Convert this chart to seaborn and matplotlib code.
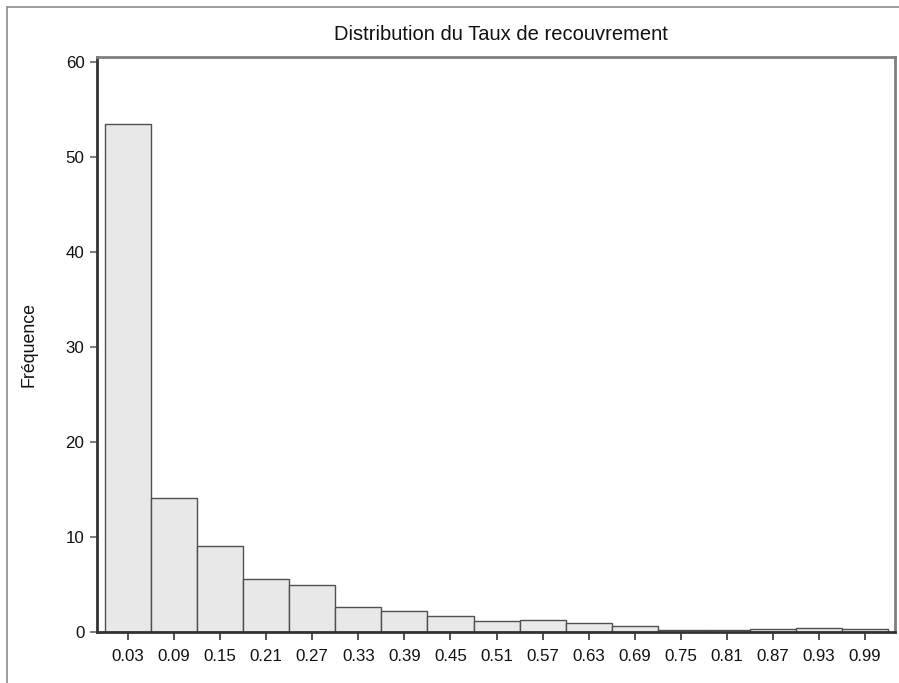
import numpy as np
import matplotlib
matplotlib.use("Agg")
import matplotlib.pyplot as plt
from matplotlib.lines import Line2D
import seaborn as sns

# bin centres and frequencies (%)
bin_centres = [0.03, 0.09, 0.15, 0.21, 0.27, 0.33, 0.39, 0.45, 0.51,
               0.57, 0.63, 0.69, 0.75, 0.81, 0.87, 0.93, 0.99]
frequences = [53.4, 14.07, 9.08, 5.6, 4.95, 2.63, 2.25, 1.68, 1.16,
              1.26, 0.95, 0.63, 0.21, 0.21, 0.35, 0.45, 0.35]
tick_labels = ["0.03", "0.09", "0.15", "0.21", "0.27", "0.33", "0.39", "0.45", "0.51",
               "0.57", "0.63", "0.69", "0.75", "0.81", "0.87", "0.93", "0.99"]
y_ticks = [0, 10, 20, 30, 40, 50, 60]

sns.set_style("white")
plt.rcParams['font.family'] = ['Liberation Sans', 'DejaVu Sans']

fig = plt.figure(figsize=(8.99, 6.83), dpi=100)
ax = fig.add_axes([97 / 899, 51 / 683, 798 / 899, 575 / 683])

width = bin_centres[1] - bin_centres[0]
edges = [c - width / 2 for c in bin_centres] + [bin_centres[-1] + width / 2]

sns.histplot(x=bin_centres, weights=frequences, bins=edges, ax=ax,
             color="#e8e8e8", edgecolor="#505050", linewidth=1.0, alpha=1.0)

ax.set_xlim(-0.0104, 1.029)
ax.set_ylim(0, 60.5)
ax.set_xticks(bin_centres)
ax.set_xticklabels(tick_labels, fontsize=12.2, color="#111111")
ax.set_yticks(y_ticks)
ax.set_yticklabels([str(v) for v in y_ticks], fontsize=12.2, color="#111111")
ax.tick_params(axis='x', direction='out', length=6, width=1.2, color="#333333", pad=6, bottom=True)
ax.tick_params(axis='y', direction='out', length=5, width=1.2, color="#666666", pad=4, left=True)

ax.set_xlabel("")
ax.set_ylabel("Fréquence", fontsize=12.8, color="#111111", labelpad=20)
ax.set_title("Distribution du Taux de recouvrement", fontsize=14.5, color="#111111",
             pad=12, x=0.506)

for side in ["left", "bottom"]:
    ax.spines[side].set_color("#333333")
    ax.spines[side].set_linewidth(2)
for side in ["top", "right"]:
    ax.spines[side].set_color("#808080")
    ax.spines[side].set_linewidth(2)
    ax.spines[side].set_visible(True)

# outer frame on the left and top of the picture
fig.add_artist(Line2D([6.5 / 899, 6.5 / 899], [0, 1 - 6.5 / 683], color="#8c8c8c", lw=1.2))
fig.add_artist(Line2D([6.5 / 899, 1], [1 - 6.5 / 683, 1 - 6.5 / 683], color="#8c8c8c", lw=1.2))

fig.savefig("out.png", dpi=100)
plt.close(fig)
